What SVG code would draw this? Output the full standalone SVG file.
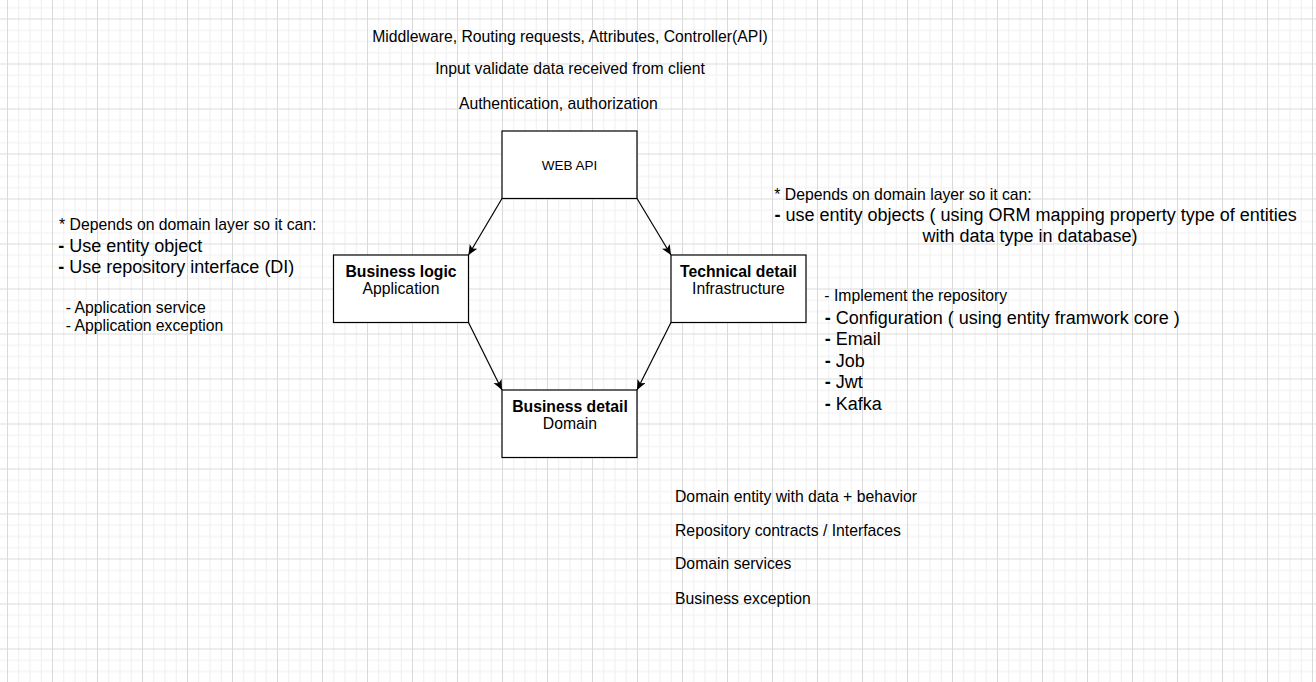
<svg xmlns="http://www.w3.org/2000/svg" width="1316" height="682" viewBox="0 0 1316 682">
<style>
text{font-family:"Liberation Sans",Arial,sans-serif;fill:#000}
.s{font-size:15.75px}
.m{font-size:18px}
.b{font-weight:bold}
.box{fill:#fff;stroke:#000;stroke-width:1.2}
.edge{fill:none;stroke:#000;stroke-width:1.2}
</style>
<defs>
<pattern id="grid" patternUnits="userSpaceOnUse" x="7" y="18.5" width="45" height="45">
<rect x="11.25" y="0" width="1" height="45" fill="#f0f0f0"/>
<rect x="22.5" y="0" width="1" height="45" fill="#f0f0f0"/>
<rect x="33.75" y="0" width="1" height="45" fill="#f0f0f0"/>
<rect x="0" y="11.25" width="45" height="1" fill="#f0f0f0"/>
<rect x="0" y="22.5" width="45" height="1" fill="#f0f0f0"/>
<rect x="0" y="33.75" width="45" height="1" fill="#f0f0f0"/>
<rect x="0" y="0" width="1" height="45" fill="#dadada"/>
<rect x="0" y="0" width="45" height="1" fill="#dadada"/>
</pattern>
<marker id="arr" markerUnits="userSpaceOnUse" markerWidth="12" markerHeight="10" refX="10" refY="4.5" orient="auto">
<path d="M0,0 L10,4.5 L0,9 L2.5,4.5 Z" fill="#000"/>
</marker>
</defs>
<rect width="1316" height="682" fill="#fff"/>
<rect width="1316" height="682" fill="url(#grid)"/>

<g id="connectors">
<path class="edge" d="M502,198.5 L468.5,255" marker-end="url(#arr)"/>
<path class="edge" d="M637,198.5 L671,255" marker-end="url(#arr)"/>
<path class="edge" d="M468.5,322.5 L502,390" marker-end="url(#arr)"/>
<path class="edge" d="M671,322.5 L637,390" marker-end="url(#arr)"/>
</g>

<g id="webapi">
<rect class="box" x="502" y="131" width="135" height="67.5"/>
<text x="569.5" y="170" font-size="13.5" text-anchor="middle">WEB API</text>
</g>
<g id="application">
<rect class="box" x="333.5" y="255" width="135" height="67.5"/>
<text class="s b" x="401" y="277" text-anchor="middle">Business logic</text>
<text class="s" x="401" y="294" text-anchor="middle">Application</text>
</g>
<g id="infrastructure">
<rect class="box" x="671" y="255" width="135" height="67.5"/>
<text class="s b" x="738.5" y="277" text-anchor="middle">Technical detail</text>
<text class="s" x="738.5" y="294" text-anchor="middle">Infrastructure</text>
</g>
<g id="domain">
<rect class="box" x="502" y="390" width="135" height="67.5"/>
<text class="s b" x="570" y="412" text-anchor="middle">Business detail</text>
<text class="s" x="570" y="429" text-anchor="middle">Domain</text>
</g>

<g id="webapi-notes">
<text class="s" x="570" y="41.7" text-anchor="middle">Middleware, Routing requests, Attributes, Controller(API)</text>
<text class="s" x="570" y="74.3" text-anchor="middle">Input validate data received from client</text>
<text class="s" x="558.3" y="108.7" text-anchor="middle">Authentication, authorization</text>
</g>

<g id="application-notes">
<text class="s" x="59" y="230.3">* Depends on domain layer so it can:</text>
<text class="m" x="58.3" y="251.5"><tspan class="b">-</tspan> Use entity object</text>
<text class="m" x="58.3" y="272.5"><tspan class="b">-</tspan> Use repository interface (DI)</text>
<text class="s" x="65.7" y="312.6">- Application service</text>
<text class="s" x="65.7" y="331.3">- Application exception</text>
</g>

<g id="infrastructure-notes">
<text class="s" x="774.3" y="199.6">* Depends on domain layer so it can:</text>
<text class="m" x="774.5" y="220.5"><tspan class="b">-</tspan> use entity objects ( using ORM mapping property type of entities</text>
<text class="m" x="1030" y="242" text-anchor="middle">with data type in database)</text>
<text class="s" x="824.3" y="301">- Implement the repository</text>
<text class="m" x="824.7" y="323.8"><tspan class="b">-</tspan> Configuration ( using entity framwork core )</text>
<text class="m" x="824.7" y="345"><tspan class="b">-</tspan> Email</text>
<text class="m" x="824.7" y="366.5"><tspan class="b">-</tspan> Job</text>
<text class="m" x="824.7" y="387.8"><tspan class="b">-</tspan> Jwt</text>
<text class="m" x="824.7" y="409.5"><tspan class="b">-</tspan> Kafka</text>
</g>

<g id="domain-notes">
<text class="s" x="675" y="502">Domain entity with data + behavior</text>
<text class="s" x="675" y="536">Repository contracts / Interfaces</text>
<text class="s" x="675" y="568.7">Domain services</text>
<text class="s" x="675" y="603.6">Business exception</text>
</g>
</svg>
